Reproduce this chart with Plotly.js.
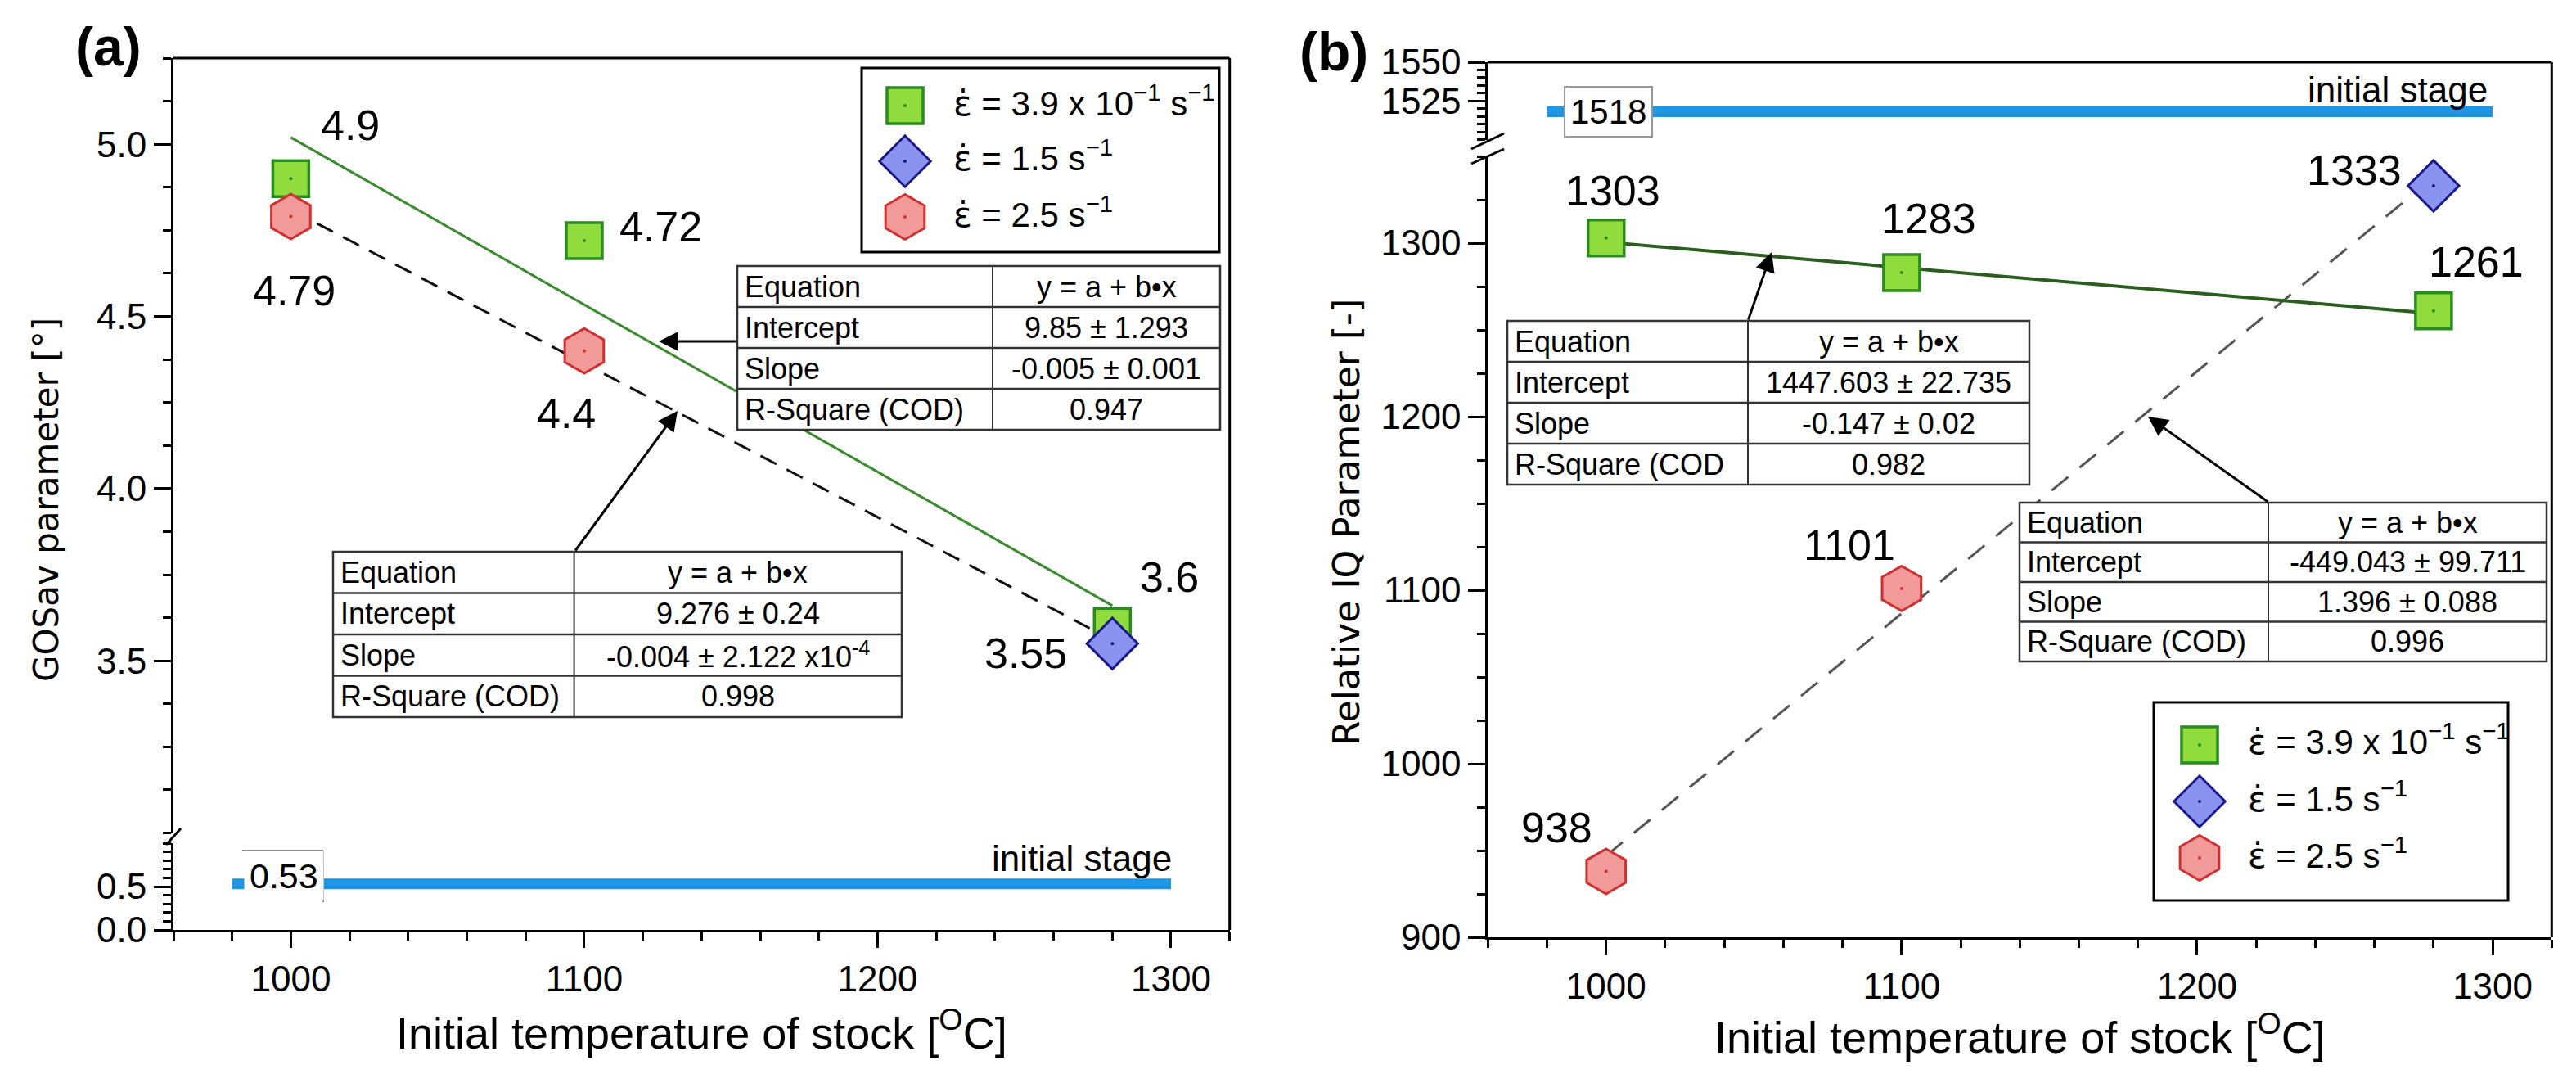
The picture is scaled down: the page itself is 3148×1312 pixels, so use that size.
<!DOCTYPE html>
<html><head><meta charset="utf-8">
<script src="https://cdn.plot.ly/plotly-3.0.1.min.js"></script>
<style>html,body{margin:0;padding:0;background:#fff;} #chart{width:3148px;height:1312px;}</style>
</head><body><div id="chart"></div>
<script>
// ---------------- data ----------------
// (a) GOSav parameter
const gosSlowX = [1000, 1100, 1280];
const gosSlowY = [4.9, 4.72, 3.6];
const gosMidX = [1280];
const gosMidY = [3.55];
const gosFastX = [1000, 1100];
const gosFastY = [4.79, 4.4];
const gosInitialX = [980, 1300];
const gosInitialY = [0.53, 0.53];
const gosFitSlowX = [1000, 1280];
const gosFitSlowY = [5.02, 3.66];
const gosFitFastX = [1000, 1280];
const gosFitFastY = [4.81, 3.56];
// (b) Relative IQ parameter
const iqSlowX = [1000, 1100, 1280];
const iqSlowY = [1303, 1283, 1261];
const iqMidX = [1280];
const iqMidY = [1333];
const iqFastX = [1000, 1100];
const iqFastY = [938, 1101];
const iqInitialX = [980, 1300];
const iqInitialY = [1518, 1518];
const iqFitSlowX = [1000, 1280];
const iqFitSlowY = [1300.6, 1259.4];
const iqFitFastX = [1000, 1280];
const iqFitFastY = [947, 1337.8];
// tick values
const xTickVals = [1000, 1100, 1200, 1300];
const gosUpperTicks = [3.5, 4.0, 4.5, 5.0];
const gosLowerTicks = [0.0, 0.5];
const iqLowerTicks = [900, 1000, 1100, 1200, 1300];
const iqUpperTicks = [1525, 1550];
// texts
const epsDot = '<span style="font-family:\'DejaVu Sans\'">\u03B5\u0307</span>';
const legendLabels = [epsDot + ' = 3.9 x 10<sup>\u22121</sup> s<sup>\u22121</sup>', epsDot + ' = 1.5 s<sup>\u22121</sup>', epsDot + ' = 2.5 s<sup>\u22121</sup>'];
const tableHeader = ['Equation', 'y = a + b\u2022x'];
const tableRowNames = ['Intercept', 'Slope', 'R-Square (COD)'];
const tableRowNamesB1 = ['Intercept', 'Slope', 'R-Square (COD'];
const tableA1 = ['9.85 \u00B1 1.293', '-0.005 \u00B1 0.001', '0.947'];
const tableA2 = ['9.276 \u00B1 0.24', '-0.004 \u00B1 2.122 x10<sup>-4</sup>', '0.998'];
const tableB1 = ['1447.603 \u00B1 22.735', '-0.147 \u00B1 0.02', '0.982'];
const tableB2 = ['-449.043 \u00B1 99.711', '1.396 \u00B1 0.088', '0.996'];

// ---------------- layout helpers ----------------
const W = 3148, H = 1312;
const fx = p => p / W, fy = p => 1 - p / H;
const SANS = '"Liberation Sans", Arial, Helvetica, sans-serif';
const WIDE = '"DejaVu Sans", Verdana, sans-serif';
const tickFont = {family: SANS, size: 44, color: '#000'};
function ax(o) {
  return Object.assign({showgrid: false, zeroline: false, showline: true, linewidth: 3, linecolor: '#000',
    ticks: 'outside', tickwidth: 3, tickcolor: '#000', tickfont: tickFont, fixedrange: true}, o);
}
function minor(dtick, tick0) {
  return {dtick: dtick, tick0: tick0, ticks: 'outside', ticklen: 10, tickwidth: 3, tickcolor: '#000', showgrid: false};
}
const A = {l: 212, r: 1502.7, t: 71.1, b: 1136, upB: 1017.5, loT: 1030};
const B = {l: 1818.3, r: 3118.3, t: 76, b: 1145, upB: 170.6, loT: 191};
const LA = {l: 1053, r: 1490, t: 83, b: 308, sx: 1106, tx: 1163, rows: [129, 197, 265]};
const LB = {l: 2632, r: 3065, t: 858, b: 1100, sx: 2688, tx: 2745, rows: [910, 979, 1048]};

const green = {fill: '#8fdc3c', line: '#2a8c1e'};
const blue = {fill: '#8a93f0', line: '#1a1a8a'};
const red = {fill: '#f29a9a', line: '#d03030'};
const symSquare = c => ({symbol: 'square', size: 44, color: c.fill, line: {color: c.line, width: 3.5}});
const symDiamond = c => ({symbol: 'diamond', size: 48, color: c.fill, line: {color: c.line, width: 3}});
const symHex = c => ({symbol: 'hexagon', size: 55, color: c.fill, line: {color: c.line, width: 3}});

const traces = [];
function pts(x, y, xa, ya, marker, dotColor) {
  traces.push({type: 'scatter', mode: 'markers', x: x, y: y, xaxis: xa, yaxis: ya, marker: marker, hoverinfo: 'skip'});
  traces.push({type: 'scatter', mode: 'markers', x: x, y: y, xaxis: xa, yaxis: ya, marker: {size: 4, color: dotColor}, hoverinfo: 'skip'});
}
function ln(x, y, xa, ya, line) {
  traces.push({type: 'scatter', mode: 'lines', x: x, y: y, xaxis: xa, yaxis: ya, line: line, hoverinfo: 'skip'});
}
// panel a
ln(gosInitialX, gosInitialY, 'x', 'y', {color: '#1e96e4', width: 13});
ln(gosFitSlowX, gosFitSlowY, 'x', 'y2', {color: '#3b8a2f', width: 3});
ln(gosFitFastX, gosFitFastY, 'x', 'y2', {color: '#111', width: 3, dash: '22px,14px'});
pts(gosSlowX, gosSlowY, 'x', 'y2', symSquare(green), green.line);
pts(gosFastX, gosFastY, 'x', 'y2', symHex(red), red.line);
pts(gosMidX, gosMidY, 'x', 'y2', symDiamond(blue), blue.line);
// panel b
ln(iqInitialX, iqInitialY, 'x3', 'y4', {color: '#1e96e4', width: 13});
ln(iqFitFastX, iqFitFastY, 'x3', 'y3', {color: '#555', width: 3, dash: '26px,18px'});
ln(iqFitSlowX, iqFitSlowY, 'x3', 'y3', {color: '#2a5e1e', width: 4});
pts(iqSlowX, iqSlowY, 'x3', 'y3', symSquare(green), green.line);
pts(iqFastX, iqFastY, 'x3', 'y3', symHex(red), red.line);
pts(iqMidX, iqMidY, 'x3', 'y3', symDiamond(blue), blue.line);
// legend swatches (auxiliary pixel axes)
[[LA, 'x5', 'y5'], [LB, 'x6', 'y6']].forEach(([L, xa, ya]) => {
  pts([L.sx], [L.rows[0]], xa, ya, symSquare(green), green.line);
  pts([L.sx], [L.rows[1]], xa, ya, symDiamond(blue), blue.line);
  pts([L.sx], [L.rows[2]], xa, ya, symHex(red), red.line);
});

// shapes & annotations
const shapes = [];
const ann = [];
function seg(x0, y0, x1, y1, color, width) {
  shapes.push({type: 'line', xref: 'paper', yref: 'paper', x0: fx(x0), y0: fy(y0), x1: fx(x1), y1: fy(y1), line: {color: color, width: width}, layer: 'above'});
}
function txt(x, y, text, size, opts) {
  ann.push(Object.assign({xref: 'paper', yref: 'paper', x: fx(x), y: fy(y), text: text, showarrow: false,
    xanchor: 'center', yanchor: 'middle', font: {family: SANS, size: size, color: '#000'}}, opts || {}));
}
seg(A.l, A.t, A.r, A.t, '#000', 3); seg(A.r, A.t, A.r, A.b, '#000', 3);
seg(B.l, B.t, B.r, B.t, '#000', 3); seg(B.r, B.t, B.r, B.b, '#000', 3);
seg(203, 1032, 221, 1012, '#000', 3);
seg(1798, 182, 1838, 163, '#000', 3); seg(1798, 200, 1838, 182, '#000', 3);
[LA, LB].forEach(L => shapes.push({type: 'rect', xref: 'paper', yref: 'paper', x0: fx(L.l), x1: fx(L.r), y0: fy(L.b), y1: fy(L.t), line: {color: '#000', width: 3}}));

// fit-result tables (white boxes with ruled rows)
function table(l, r, split, t, rowH, names, vals) {
  const rows = [tableHeader].concat(names.map((n, i) => [n, vals[i]]));
  const b = t + rowH * rows.length;
  shapes.push({type: 'rect', xref: 'paper', yref: 'paper', x0: fx(l), x1: fx(r), y0: fy(b), y1: fy(t), fillcolor: '#fff', line: {color: '#333', width: 2.5}, layer: 'above'});
  for (let i = 1; i < rows.length; i++) seg(l, t + i * rowH, r, t + i * rowH, '#333', 2.5);
  seg(split, t, split, b, '#333', 2);
  rows.forEach((row, i) => {
    const cy = t + (i + 0.5) * rowH;
    txt(l + 7, cy, row[0], 36, {xanchor: 'left'});
    txt((split + r) / 2, cy, row[1], 36);
  });
}
table(901, 1491, 1213, 325, 50, tableRowNames, tableA1);
table(407, 1102, 701.6, 674, 50.5, tableRowNames, tableA2);
table(1842, 2480, 2136, 392, 50, tableRowNamesB1, tableB1);
table(2468, 3112, 2772, 614, 48.5, tableRowNames, tableB2);

function dataLabel(xa, ya, x, y, dx, dy) {
  ann.push({xref: xa, yref: ya, x: x, y: y, text: String(y), showarrow: false, xshift: dx, yshift: dy,
    xanchor: 'center', yanchor: 'middle', font: {family: SANS, size: 52, color: '#000'}});
}
const shiftsA = {slow: [[73, 65], [94, 17], [70, 60]], fast: [[4, -90], [-22, -76]], mid: [[-106, -12]]};
gosSlowX.forEach((x, i) => dataLabel('x', 'y2', x, gosSlowY[i], shiftsA.slow[i][0], shiftsA.slow[i][1]));
gosFastX.forEach((x, i) => dataLabel('x', 'y2', x, gosFastY[i], shiftsA.fast[i][0], shiftsA.fast[i][1]));
gosMidX.forEach((x, i) => dataLabel('x', 'y2', x, gosMidY[i], shiftsA.mid[i][0], shiftsA.mid[i][1]));
const shiftsB = {slow: [[8, 58], [33, 66], [52, 60]], fast: [[-60, 53], [-64, 53]], mid: [[-97, 19]]};
iqSlowX.forEach((x, i) => dataLabel('x3', 'y3', x, iqSlowY[i], shiftsB.slow[i][0], shiftsB.slow[i][1]));
iqFastX.forEach((x, i) => dataLabel('x3', 'y3', x, iqFastY[i], shiftsB.fast[i][0], shiftsB.fast[i][1]));
iqMidX.forEach((x, i) => dataLabel('x3', 'y3', x, iqMidY[i], shiftsB.mid[i][0], shiftsB.mid[i][1]));
// initial stage value boxes
ann.push({xref: 'x', yref: 'y', x: 1000, y: gosInitialY[0], text: String(gosInitialY[0]), showarrow: false, xshift: -8, yshift: 10,
  bgcolor: '#fff', borderpad: 6, font: {family: SANS, size: 43, color: '#000'}});
seg(296, 1039, 395, 1039, '#888', 2); seg(395, 1039, 395, 1102, '#888', 2);
ann.push({xref: 'x3', yref: 'y4', x: 1000, y: iqInitialY[0], text: String(iqInitialY[0]), showarrow: false, xshift: 3,
  bgcolor: '#fff', bordercolor: '#999', borderwidth: 2, borderpad: 6, font: {family: SANS, size: 42, color: '#000'}});
txt(1322, 1048, 'initial stage', 44);
txt(2930, 109, 'initial stage', 44);
// legends
[LA, LB].forEach(L => legendLabels.forEach((t, i) => txt(L.tx, L.rows[i] - 6, t, 42, {xanchor: 'left'})));
// titles
txt(857, 1258, 'Initial temperature of stock [<sup>O</sup>C]', 54);
txt(2468, 1263, 'Initial temperature of stock [<sup>O</sup>C]', 54);
txt(56, 611, 'GOSav parameter [\u00B0]', 42, {textangle: -90, font: {family: WIDE, size: 42, color: '#000'}});
txt(1645, 638, 'Relative IQ Parameter [-]', 44, {textangle: -90, font: {family: WIDE, size: 44, color: '#000'}});
txt(132, 57, '<b>(a)</b>', 66);
txt(1630, 63, '<b>(b)</b>', 66);
// arrows
function arrow(tipX, tipY, tailX, tailY) {
  ann.push({xref: 'paper', yref: 'paper', x: fx(tipX), y: fy(tipY), ax: tailX - tipX, ay: tailY - tipY, axref: 'pixel', ayref: 'pixel',
    text: '', showarrow: true, arrowhead: 2, arrowsize: 1.6, arrowwidth: 3, arrowcolor: '#000', standoff: 0, startstandoff: 0});
}
arrow(805, 417, 901, 417);
arrow(828, 502, 702, 674);
arrow(2165, 308, 2136, 392);
arrow(2625, 509, 2773, 614);

const layout = {
  width: W, height: H, margin: {l: 0, r: 0, t: 0, b: 0}, paper_bgcolor: '#fff', plot_bgcolor: 'rgba(0,0,0,0)', showlegend: false,
  xaxis: ax({domain: [fx(A.l), fx(A.r)], range: [960, 1320], anchor: 'y', tickmode: 'array', tickvals: xTickVals, ticklen: 19, minor: minor(20, 1000)}),
  yaxis: ax({domain: [fy(A.b), fy(A.loT)], range: [0, 1], anchor: 'x', tickmode: 'array', tickvals: gosLowerTicks, tickformat: '.1f', ticklen: 21, minor: minor(0.1, 0)}),
  yaxis2: ax({domain: [fy(A.upB), fy(A.t)], range: [3, 5.25], anchor: 'x', tickmode: 'array', tickvals: gosUpperTicks, tickformat: '.1f', ticklen: 21, minor: minor(0.125, 3)}),
  xaxis3: ax({domain: [fx(B.l), fx(B.r)], range: [960, 1320], anchor: 'y3', tickmode: 'array', tickvals: xTickVals, ticklen: 19, minor: minor(20, 1000)}),
  yaxis3: ax({domain: [fy(B.b), fy(B.loT)], range: [900, 1350], anchor: 'x3', tickmode: 'array', tickvals: iqLowerTicks, ticklen: 21, minor: minor(25, 900)}),
  yaxis4: ax({domain: [fy(B.upB), fy(B.t)], range: [1500, 1550], anchor: 'x3', tickmode: 'array', tickvals: iqUpperTicks, ticklen: 21, minor: minor(5, 1500)}),
  xaxis5: {domain: [fx(LA.l), fx(LA.r)], range: [LA.l, LA.r], anchor: 'y5', visible: false, fixedrange: true},
  yaxis5: {domain: [fy(LA.b), fy(LA.t)], range: [LA.b, LA.t], anchor: 'x5', visible: false, fixedrange: true},
  xaxis6: {domain: [fx(LB.l), fx(LB.r)], range: [LB.l, LB.r], anchor: 'y6', visible: false, fixedrange: true},
  yaxis6: {domain: [fy(LB.b), fy(LB.t)], range: [LB.b, LB.t], anchor: 'x6', visible: false, fixedrange: true},
  shapes: shapes, annotations: ann
};
Plotly.newPlot('chart', traces, layout, {staticPlot: true});
</script></body></html>
